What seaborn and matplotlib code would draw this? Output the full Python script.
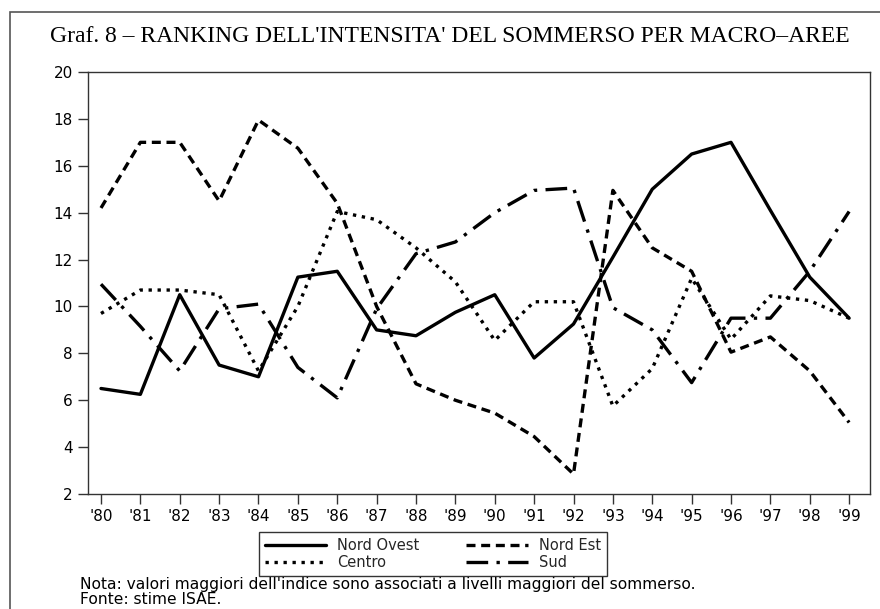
import matplotlib
matplotlib.use("Agg")
import matplotlib.pyplot as plt
import seaborn as sns
import pandas as pd
from matplotlib.patches import Rectangle

years = ["'80", "'81", "'82", "'83", "'84", "'85", "'86", "'87", "'88", "'89",
         "'90", "'91", "'92", "'93", "'94", "'95", "'96", "'97", "'98", "'99"]
nord_ovest = [6.5, 6.25, 10.5, 7.5, 7.0, 11.25, 11.5, 9.0, 8.75, 9.75,
              10.5, 7.8, 9.25, 12.1, 15.0, 16.5, 17.0, 14.1, 11.25, 9.5]
nord_est = [14.2, 17.0, 17.0, 14.5, 17.95, 16.75, 14.4, 10.0, 6.7, 6.0,
            5.45, 4.45, 2.85, 14.95, 12.5, 11.5, 8.05, 8.7, 7.25, 5.05]
centro = [9.7, 10.7, 10.7, 10.5, 7.25, 10.0, 14.05, 13.7, 12.5, 11.05,
          8.55, 10.2, 10.2, 5.75, 7.35, 11.2, 8.6, 10.45, 10.25, 9.5]
sud = [10.95, 9.15, 7.25, 9.9, 10.1, 7.4, 6.1, 9.9, 12.25, 12.75,
       14.0, 14.95, 15.05, 9.95, 9.0, 6.75, 9.5, 9.5, 11.5, 14.05]
series_names = ["Nord Ovest", "Nord Est", "Centro", "Sud"]
y_ticks = [2, 4, 6, 8, 10, 12, 14, 16, 18, 20]

title = "Graf. 8 \u2013 RANKING DELL'INTENSITA' DEL SOMMERSO PER MACRO\u2013AREE"
note = "Nota: valori maggiori dell'indice sono associati a livelli maggiori del sommerso."
source = "Fonte: stime ISAE."

rows = []
for name, vals in zip(series_names, [nord_ovest, nord_est, centro, sud]):
    for i, v in enumerate(vals):
        rows.append({"pos": i, "Anno": years[i], "Area": name, "Valore": v})
df = pd.DataFrame(rows)

sns.set_theme(style="white")
plt.rcParams["font.family"] = ["DejaVu Sans"]

fig = plt.figure(figsize=(8.8, 6.09), dpi=100)
ax = fig.add_axes([88 / 880, 1 - 494 / 609, (870 - 88) / 880, (494 - 72) / 609])

dashes = {
    "Nord Ovest": "",
    "Nord Est": (2.7, 1.7),
    "Centro": (1.0, 1.7),
    "Sud": (6.5, 2.5, 1.0, 2.5),
}
sns.lineplot(data=df, x="pos", y="Valore", style="Area", style_order=series_names,
             dashes=dashes, color="black", linewidth=2.4, ax=ax, legend="full")

handles, labels = ax.get_legend_handles_labels()
hmap = dict(zip(labels, handles))
ax.get_legend().remove()
order = ["Nord Ovest", "Centro", "Nord Est", "Sud"]
leg = fig.legend([hmap[k] for k in order], order, ncol=2,
                 loc="center", bbox_to_anchor=(433 / 880, 1 - 554 / 609),
                 frameon=True, fancybox=False, edgecolor="black", fontsize=10.5,
                 handlelength=4.2, columnspacing=3.2, borderpad=0.4,
                 labelspacing=0.15, handletextpad=0.8)
leg.get_frame().set_linewidth(1.0)

ax.set_xlim(-0.33, 19.53)
ax.set_ylim(2, 20)
ax.set_xticks(range(len(years)))
ax.set_xticklabels(years)
ax.set_yticks(y_ticks)
ax.set_xlabel("")
ax.set_ylabel("")
for s in ax.spines.values():
    s.set_color("#333333")
    s.set_linewidth(1.0)
ax.tick_params(axis="both", direction="out", length=7, width=1, color="#333333",
               labelsize=11, labelcolor="black", bottom=True, left=True, pad=4)

fig.text(450 / 880, 1 - 37 / 609, title, ha="center", va="center",
         family=["Liberation Serif"], fontsize=17, color="black")
fig.text(80 / 880, 2 / 609, note + "\n" + source, ha="left", va="bottom",
         fontsize=11.2, color="black", linespacing=1.0)

top = 1 - 12 / 609
fig.patches.append(Rectangle((10 / 880, -0.1), 1.2, top + 0.1,
                             transform=fig.transFigure, fill=False,
                             edgecolor="#555555", linewidth=1.2))

fig.savefig("out.png", dpi=100)
